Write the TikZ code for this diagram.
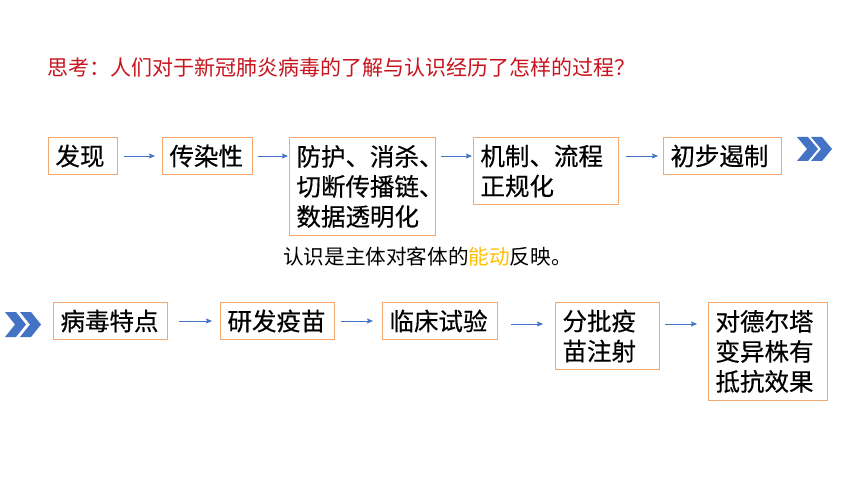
\documentclass[tikz,border=0pt]{standalone}
\usepackage{fontspec}
\setmainfont{Noto Sans CJK SC}
\newfontfamily\boxfont[FakeBold=0.4]{Noto Sans CJK SC}
\usetikzlibrary{arrows.meta}
\definecolor{boxorange}{RGB}{244,168,110}
\definecolor{arrblue}{RGB}{68,114,196}
\definecolor{titlered}{RGB}{200,20,30}
\definecolor{gold}{RGB}{255,192,0}
\tikzset{
  stepbox/.style={draw=boxorange, line width=1pt, anchor=north west, inner xsep=7pt, inner ysep=0pt,
    align=left, font=\boxfont\fontsize{24.5pt}{30pt}\selectfont, text=black},
  arr/.style={draw=arrblue, line width=0.7pt, -{Stealth[length=6pt,width=5pt,inset=1pt]}},
  chev/.style={fill=arrblue},
  plain/.style={inner sep=0pt, anchor=west}
}
\newcommand{\chevshape}[3]{% x, top y, height
  \fill[chev] (#1,#2) -- ++(11,0) -- ++(10,#3/2) -- ++(-10,#3/2) -- ++(-11,0) -- ++(10,-#3/2) -- cycle;}
\begin{document}
\begin{tikzpicture}[x=1pt,y=-1pt]
\useasboundingbox (0,0) rectangle (860,484);
\fill[white] (0,0) rectangle (860,484);

\node[plain, text=titlered, font=\fontsize{21pt}{25pt}\selectfont] (title) at (47,68) {思考：人们对于新冠肺炎病毒的了解与认识经历了怎样的过程？};

% row 1
\node[stepbox, text width=55pt, minimum height=37pt] (b1) at (48,137) {发现};
\node[stepbox, text width=76pt, minimum height=37pt] (b2) at (162,137) {传染性};
\node[stepbox, text width=132pt, minimum height=98pt] (b3) at (289,137) {防护、消杀、\\切断传播链、\\数据透明化};
\node[stepbox, text width=131pt, minimum height=67pt] (b4) at (473,137) {机制、流程\\正规化};
\node[stepbox, text width=104pt, minimum height=37pt] (b5) at (663,137) {初步遏制};

\draw[arr, shorten <=6pt, shorten >=7pt] (b1.east) -- (b2.west);
\draw[arr, shorten <=5pt, shorten >=1pt] (b2.east) -- (b3.west |- b2.east);
\draw[arr, shorten <=5pt, shorten >=1pt] (b3.east |- b1.east) -- (b4.west |- b1.east);
\draw[arr, shorten <=7pt, shorten >=5pt] (b4.east |- b1.east) -- (b5.west);

\chevshape{797}{137}{24}
\chevshape{811}{137}{24}

\node[plain, font=\fontsize{20.6pt}{24pt}\selectfont] (cap) at (283,257) {认识是主体对客体的\textcolor{gold}{能动}反映。};

% row 2
\chevshape{5}{312}{25}
\chevshape{20}{312}{25}

\node[stepbox, text width=100pt, minimum height=37pt] (c1) at (53,302) {病毒特点};
\node[stepbox, text width=100pt, minimum height=37pt] (c2) at (220,302) {研发疫苗};
\node[stepbox, text width=101pt, minimum height=37pt] (c3) at (382,302) {临床试验};
\node[stepbox, text width=90pt, minimum height=67pt] (c4) at (555,302) {分批疫\\苗注射};
\node[stepbox, text width=105pt, minimum height=98pt] (c5) at (708,302) {对德尔塔\\变异株有\\抵抗效果};

\draw[arr, shorten <=11pt, shorten >=8pt] (c1.east) -- (c2.west);
\draw[arr, shorten <=6pt, shorten >=9pt] (c2.east) -- (c3.west);
\draw[arr, shorten <=13pt, shorten >=12pt] ([yshift=-3pt]c3.east) -- ([yshift=-3pt]c4.west |- c3.east);
\draw[arr, shorten <=5pt, shorten >=11pt] ([yshift=-3pt]c4.east |- c3.east) -- ([yshift=-3pt]c5.west |- c3.east);
\end{tikzpicture}
\end{document}
